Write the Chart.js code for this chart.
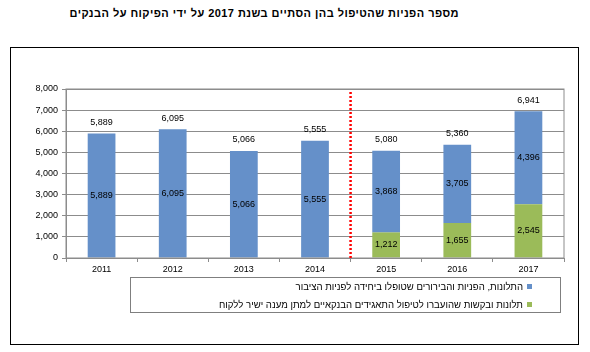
<!DOCTYPE html>
<html>
<head>
<meta charset="utf-8">
<script src="https://cdn.jsdelivr.net/npm/chart.js@4.4.1/dist/chart.umd.min.js"></script>
<style>
    body { margin: 0; background: #fff; }
    #wrap { position: relative; width: 590px; height: 352px; overflow: hidden; }
    h1 {
        position: absolute; top: 7px; right: 131px; margin: 0;
        white-space: nowrap; direction: rtl;
        font: bold 11px "Liberation Sans", "DejaVu Sans", sans-serif;
        letter-spacing: 0.45px; color: #000;
    }
    .frame {
        position: absolute; left: 10px; top: 47px; width: 567px; height: 296px;
        border: 1.5px solid #000;
    }
    canvas { position: absolute; left: 0; top: 0; }
    .legend {
        position: absolute; left: 130px; top: 277px; width: 431px; height: 36px;
        border: 1px solid #7f7f7f; box-sizing: border-box;
        direction: rtl; font: 9.6px "Liberation Sans", "DejaVu Sans", sans-serif; color: #000;
    }
    .legend div { position: absolute; right: 28px; white-space: nowrap; }
    .legend span { display: inline-block; width: 5px; height: 5px; margin-left: 4px; vertical-align: 1px; }
</style>
</head>
<body>
<div id="wrap">
    <h1>מספר הפניות שהטיפול בהן הסתיים בשנת 2017 על ידי הפיקוח על הבנקים</h1>
    <div class="frame"></div>
    <canvas id="chart" width="590" height="352"></canvas>
    <div class="legend" id="legend"></div>
</div>
<script>
const years = ['2011', '2012', '2013', '2014', '2015', '2016', '2017']
const publicUnit = [5889, 6095, 5066, 5555, 3868, 3705, 4396]
const bankReferred = [null, null, null, null, 1212, 1655, 2545]
const yTicks = [0, 1000, 2000, 3000, 4000, 5000, 6000, 7000, 8000]
const labelPublic = 'התלונות, הפניות והבירורים שטופלו ביחידה לפניות הציבור'
const labelBanks = 'תלונות ובקשות שהועברו לטיפול התאגידים הבנקאיים למתן מענה ישיר ללקוח'

const BLUE = '#6590c9'
const GREEN = '#9bbb59'
const FONT = '"Liberation Sans", "DejaVu Sans", sans-serif'
const fmt = v => v.toLocaleString('en-US')

// legend (blue item first, like the original)
const legendItems = [
    { label: labelPublic, color: BLUE },
    { label: labelBanks, color: GREEN }
]
document.getElementById('legend').innerHTML = legendItems.map((item, idx) =>
    `<div style="top:${idx == 0 ? 3 : 21}px"><span style="background:${item.color}"></span>${item.label}</div>`
).join('')

const frameAndDivider = {
    id: 'frameAndDivider',
    afterDatasetsDraw(chart) {
        const { ctx, chartArea: area, scales: { x } } = chart
        ctx.save()
        ctx.strokeStyle = '#8c8c8c'
        ctx.lineWidth = 1
        ctx.strokeRect(area.left, area.top, area.right - area.left, area.bottom - area.top)

        // red dotted divider between 2014 and 2015
        const xd = (x.getPixelForValue(3) + x.getPixelForValue(4)) / 2
        ctx.strokeStyle = '#ff0000'
        ctx.lineWidth = 2.5
        ctx.setLineDash([2, 2])
        ctx.beginPath()
        ctx.moveTo(xd, area.top + 3)
        ctx.lineTo(xd, area.bottom)
        ctx.stroke()
        ctx.restore()
    }
}

const valueLabels = {
    id: 'valueLabels',
    afterDatasetsDraw(chart) {
        const { ctx } = chart
        ctx.save()
        ctx.font = `9px ${FONT}`
        ctx.fillStyle = '#000'
        ctx.textAlign = 'center'
        ctx.textBaseline = 'middle'
        chart.data.datasets.forEach((dataset, di) => {
            chart.getDatasetMeta(di).data.forEach((bar, i) => {
                const v = dataset.data[i]
                if (v == null) return
                ctx.fillText(fmt(v), bar.x, (bar.y + bar.base) / 2)
            })
        })
        // totals above the stacks
        const top = chart.getDatasetMeta(1).data
        years.forEach((y, i) => {
            const total = publicUnit[i] + (bankReferred[i] || 0)
            ctx.fillText(fmt(total), top[i].x, top[i].y - 11)
        })
        ctx.restore()
    }
}

new Chart(document.getElementById('chart'), {
    type: 'bar',
    data: {
        labels: years,
        datasets: [
            { label: labelBanks, data: bankReferred, backgroundColor: GREEN, barPercentage: 0.39, categoryPercentage: 1 },
            { label: labelPublic, data: publicUnit, backgroundColor: BLUE, barPercentage: 0.39, categoryPercentage: 1 }
        ]
    },
    options: {
        responsive: false,
        animation: false,
        layout: { padding: { left: 20, top: 89, right: 26, bottom: 74 } },
        plugins: { legend: { display: false }, tooltip: { enabled: false } },
        scales: {
            x: {
                stacked: true,
                grid: { display: true, drawOnChartArea: false, offset: true, tickLength: 4, color: '#8c8c8c' },
                border: { color: '#8c8c8c' },
                ticks: { color: '#000', font: { family: FONT, size: 9 }, padding: 2 },
                afterFit: scale => { scale.height = 20 }
            },
            y: {
                stacked: true,
                min: 0,
                max: 8000,
                afterBuildTicks: scale => { scale.ticks = yTicks.map(value => ({ value })) },
                grid: { color: '#8c8c8c', tickLength: 4 },
                border: { color: '#8c8c8c' },
                ticks: { color: '#000', font: { family: FONT, size: 9 }, padding: 4, callback: v => fmt(v) },
                afterFit: scale => { scale.width = 46 }
            }
        }
    },
    plugins: [frameAndDivider, valueLabels]
})
</script>
</body>
</html>
